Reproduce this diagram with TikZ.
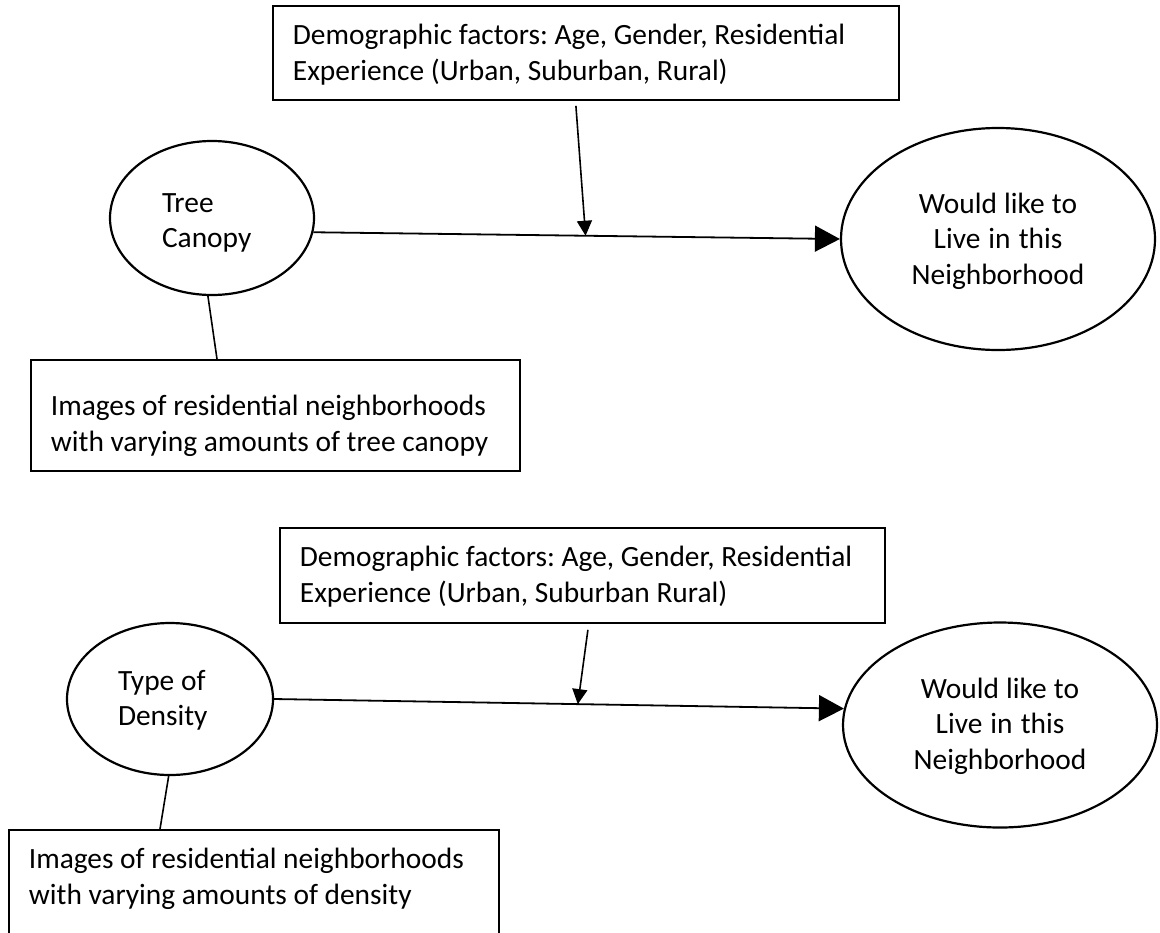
\documentclass[tikz,border=0pt]{standalone}
\usepackage{fontspec}
\setmainfont{Carlito}
\usetikzlibrary{arrows.meta, shapes.geometric, calc}
\newcommand{\diagfont}{\fontsize{14.7pt}{17.8pt}\selectfont\frenchspacing}

\begin{document}
\begin{tikzpicture}[
            x=0.5pt, y=-0.5pt,
            every node/.style={execute at begin node={\spaceskip=0pt\xspaceskip=0pt}},
            factorbox/.style={draw, line width=0.9pt, anchor=north west, align=left, inner xsep=10pt, inner ysep=0pt, font=\diagfont},
            construct/.style={draw, ellipse, line width=1.1pt, inner sep=0pt, font=\diagfont},
            pathline/.style={line width=0.9pt, -{Triangle[length=12.5pt, width=13pt]}},
            modline/.style={line width=0.8pt, -{Triangle[length=7.5pt, width=7.5pt]}},
            plainline/.style={line width=0.8pt}
        ]
          \useasboundingbox (0,0) rectangle (1160,932);
          \clip (0,0) rectangle (1160,932);

          % tree canopy model
          \node[factorbox, text width=293pt, text height=19.5pt, text depth=27.5pt] (demo1) at (272,5) {
              Demographic factors: Age, Gender, Residential\\
              Experience (Urban, Suburban, Rural)
          };
          \node[construct, minimum width=102pt, minimum height=77pt, align=left, text width=50pt, text height=10pt, text depth=16pt] (tree) at (212,218) {
              Tree\\
              Canopy
          };
          \node[construct, minimum width=157pt, minimum height=111pt, align=center, text width=90pt, text height=10pt, text depth=36pt] (live1) at (998,239) {
              Would like to\\
              Live in this\\
              Neighborhood
          };
          \node[factorbox, text width=224.5pt, text height=28pt, text depth=27.5pt] (img1) at (30,359) {
              Images of residential neighborhoods\\
              with varying amounts of tree canopy
          };

          \coordinate (m1) at ($(tree.-8)!0.517!(live1.west)$);
          \draw[pathline] (tree.-8) -- (live1.west);
          \draw[modline] ([shift={(-10,5)}]demo1.south) -- (m1);
          \draw[plainline] (tree.-93) -- ([shift={(187,0)}]img1.north west);

          % density model
          \node[factorbox, text width=282.5pt, text height=19.5pt, text depth=28pt] (demo2) at (279,527) {
              Demographic factors: Age, Gender, Residential\\
              Experience (Urban, Suburban Rural)
          };
          \node[construct, minimum width=103pt, minimum height=76pt, align=left, text width=52pt, text height=10pt, text depth=19pt] (density) at (170,699) {
              Type of\\
              Density
          };
          \node[construct, minimum width=157pt, minimum height=102.5pt, align=center, text width=90pt, text height=10pt, text depth=37pt] (live2) at (1000,725) {
              Would like to\\
              Live in this\\
              Neighborhood
          };
          \node[factorbox, text width=225pt, text height=19.5pt, text depth=36pt] (img2) at (8,829) {
              Images of residential neighborhoods\\
              with varying amounts of density
          };

          \coordinate (m2) at ($(density.east)!0.533!(live2.174)$);
          \draw[pathline] (density.east) -- (live2.174);
          \draw[modline] ([shift={(5.5,6)}]demo2.south) -- (m2);
          \draw[plainline] (density.-91) -- ([shift={(152,0)}]img2.north west);
        \end{tikzpicture}
\end{document}
